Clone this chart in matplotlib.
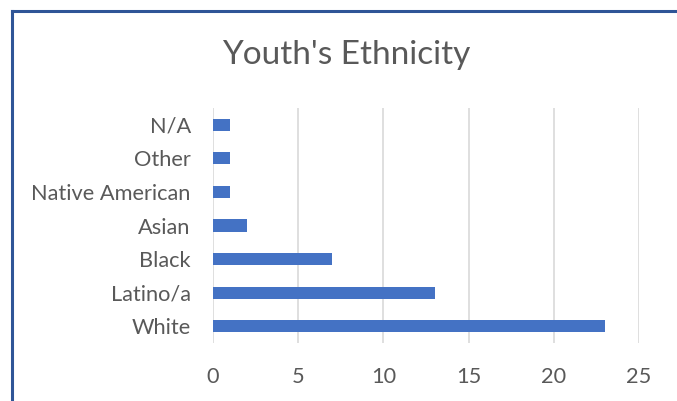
import matplotlib.pyplot as plt
from matplotlib.lines import Line2D

categories = ["White", "Latino/a", "Black", "Asian", "Native American", "Other", "N/A"]
counts = [23, 13, 7, 2, 1, 1, 1]
xticks = [0, 5, 10, 15, 20, 25]

plt.rcParams['font.family'] = ['Lato', 'DejaVu Sans']

fig = plt.figure(figsize=(6.77, 4.01), dpi=100)
ax = fig.add_axes([213 / 677, 1 - 343 / 401, 426 / 677, 235 / 401])

ax.barh(range(len(categories)), counts, height=0.36, color="#4472C4", zorder=3)
ax.set_xlim(0, 25)
ax.set_ylim(-0.5, len(categories) - 0.5)
ax.set_xticks(xticks)
ax.set_yticks(range(len(categories)))
ax.set_yticklabels(categories)
ax.grid(axis="x", color="#D9D9D9", linewidth=1.2, zorder=0)
for s in ax.spines.values():
    s.set_visible(False)
ax.tick_params(axis="both", length=0, labelsize=15.7, labelcolor="#595959")
ax.tick_params(axis="y", pad=16)
ax.tick_params(axis="x", pad=17)

fig.text(346 / 677, 1 - 55 / 401, "Youth's Ethnicity", ha="center", va="center",
         fontsize=24, color="#595959")

# partial blue frame at top and left
fig.add_artist(Line2D([12 / 677, 1], [1 - 11 / 401, 1 - 11 / 401], color="#2F5597", linewidth=2.2))
fig.add_artist(Line2D([12 / 677, 12 / 677], [0, 1 - 11 / 401], color="#2F5597", linewidth=2.2))

fig.savefig("out.png", dpi=100)
